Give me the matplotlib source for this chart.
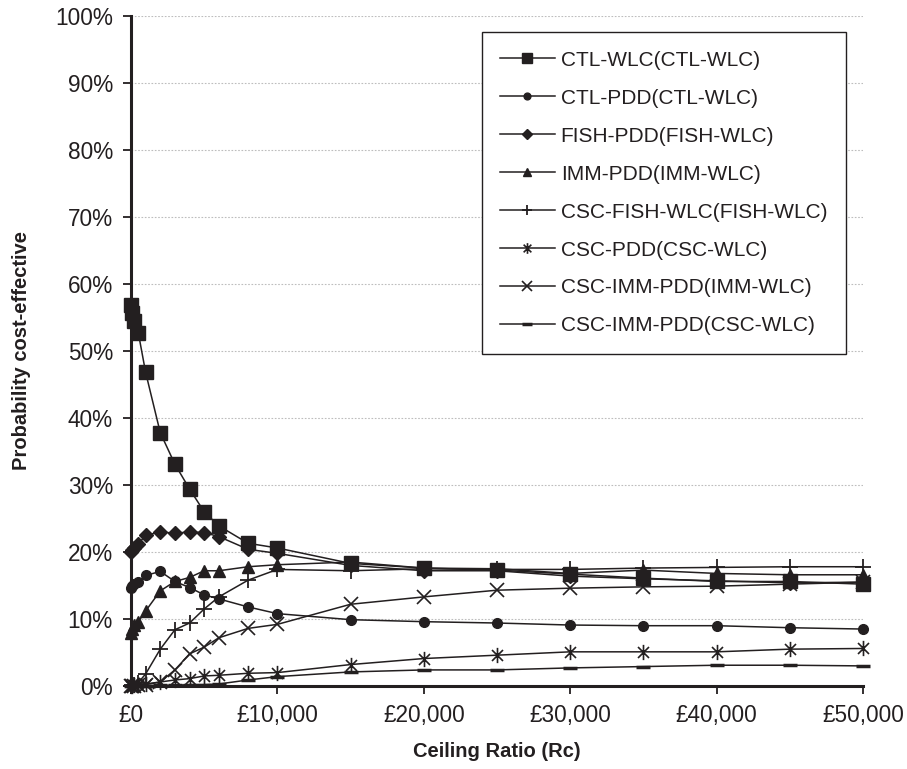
import matplotlib
matplotlib.use("Agg")
import matplotlib.pyplot as plt
from matplotlib.path import Path
from matplotlib.ticker import FuncFormatter

plt.rcParams['font.family'] = ['Liberation Sans', 'DejaVu Sans']

# ceiling ratio (GBP) and probability cost-effective (%)
ceiling = [0, 100, 200, 500, 1000, 2000, 3000, 4000, 5000, 6000, 8000, 10000,
           15000, 20000, 25000, 30000, 35000, 40000, 45000, 50000]

ctl_wlc = [56.9, 55.6, 54.5, 52.7, 46.8, 37.8, 33.1, 29.4, 26.0, 23.9, 21.3, 20.6,
           18.3, 17.6, 17.3, 16.7, 16.1, 15.6, 15.6, 15.2]
ctl_pdd = [14.6, 14.9, 15.2, 15.5, 16.5, 17.1, 15.6, 14.7, 13.6, 13.0, 11.8, 10.8,
           9.9, 9.6, 9.4, 9.1, 9.0, 9.0, 8.7, 8.5]
fish_pdd = [20.0, 20.3, 20.6, 21.2, 22.5, 23.0, 22.8, 23.0, 22.9, 22.3, 20.4, 19.8,
            18.0, 17.2, 17.2, 16.4, 16.0, 15.7, 15.4, 15.5]
imm_pdd = [7.9, 8.5, 9.1, 9.6, 11.2, 14.2, 15.6, 16.2, 17.2, 17.2, 17.8, 18.1,
           18.5, 17.6, 17.5, 16.8, 17.3, 16.8, 16.6, 16.6]
csc_fish_wlc = [0.0, 0.1, 0.2, 0.5, 1.8, 5.5, 8.4, 9.4, 11.5, 13.3, 15.8, 17.4,
                17.2, 17.5, 17.4, 17.4, 17.6, 17.7, 17.8, 17.8]
csc_pdd = [0.0, 0.05, 0.1, 0.2, 0.3, 0.6, 0.9, 1.1, 1.5, 1.6, 1.9, 2.0,
           3.2, 4.1, 4.6, 5.1, 5.1, 5.1, 5.5, 5.6]
csc_imm_pdd_imm = [0.0, 0.0, 0.05, 0.1, 0.2, 0.6, 2.4, 4.8, 5.8, 7.2, 8.6, 9.2,
                   12.2, 13.3, 14.3, 14.6, 14.8, 14.9, 15.2, 15.5]
csc_imm_pdd_csc = [0.0, 0.0, 0.0, 0.0, 0.05, 0.1, 0.1, 0.2, 0.2, 0.3, 0.9, 1.4,
                   2.1, 2.4, 2.4, 2.7, 2.9, 3.1, 3.1, 3.0]

labels = ["CTL-WLC(CTL-WLC)", "CTL-PDD(CTL-WLC)", "FISH-PDD(FISH-WLC)",
          "IMM-PDD(IMM-WLC)", "CSC-FISH-WLC(FISH-WLC)", "CSC-PDD(CSC-WLC)",
          "CSC-IMM-PDD(IMM-WLC)", "CSC-IMM-PDD(CSC-WLC)"]

# excel-style asterisk: vertical bar plus an x
asterisk = Path([(0, -1), (0, 1), (-0.72, -0.72), (0.72, 0.72), (-0.72, 0.72), (0.72, -0.72)],
                [Path.MOVETO, Path.LINETO, Path.MOVETO, Path.LINETO, Path.MOVETO, Path.LINETO])

ink = "#231f20"
styles = [
    dict(marker="s", ms=9.5),
    dict(marker="o", ms=7),
    dict(marker="D", ms=7),
    dict(marker="^", ms=9),
    dict(marker="+", ms=11, mew=1.3),
    dict(marker=asterisk, ms=11, mew=1.2),
    dict(marker="x", ms=10, mew=1.2),
    dict(marker="_", ms=10, mew=2.5),
]
series = [ctl_wlc, ctl_pdd, fish_pdd, imm_pdd, csc_fish_wlc, csc_pdd,
          csc_imm_pdd_imm, csc_imm_pdd_csc]

fig = plt.figure(figsize=(9.07, 7.69), dpi=100)
ax = fig.add_axes([131 / 907, 1 - 686 / 769, 732 / 907, 670 / 769])

for vals, lab, st in zip(series, labels, styles):
    ax.plot(ceiling, vals, color=ink, lw=1.1, mfc=ink, mec=ink, label=lab,
            clip_on=False, zorder=3, **st)

ax.set_xlim(0, 50000)
ax.set_ylim(0, 100)
ax.set_xticks(range(0, 50001, 10000))
ax.set_yticks(range(0, 101, 10))
ax.xaxis.set_major_formatter(FuncFormatter(lambda v, p: f"£{int(v):,}"))
ax.yaxis.set_major_formatter(FuncFormatter(lambda v, p: f"{int(v)}%"))

ax.grid(axis="y", color="#bdbdbd", ls=(0, (1.5, 1.5)), lw=0.8)
ax.set_axisbelow(True)
for s in ("top", "right"):
    ax.spines[s].set_visible(False)
for s in ("left", "bottom"):
    ax.spines[s].set_linewidth(2.2)
    ax.spines[s].set_color(ink)
ax.tick_params(direction="out", length=6, width=1.3, color=ink,
               labelsize=16.3, labelcolor=ink, pad=7)

ax.set_xlabel("Ceiling Ratio (Rc)", fontsize=14.5, fontweight="bold", color=ink, labelpad=11)
ax.set_ylabel("Probability cost-effective", fontsize=14.5, fontweight="bold", color=ink, labelpad=17)

leg = ax.legend(loc="upper right", bbox_to_anchor=(846 / 907, 1 - 32 / 769),
                bbox_transform=fig.transFigure, borderaxespad=0, fancybox=False,
                fontsize=15, handlelength=2.6, handletextpad=0.3, labelspacing=0.91,
                markerscale=0.7, borderpad=0.9, framealpha=1)
leg.get_frame().set_edgecolor(ink)
leg.get_frame().set_linewidth(1.0)
for t in leg.get_texts():
    t.set_color(ink)

fig.savefig("out.png", dpi=100)
